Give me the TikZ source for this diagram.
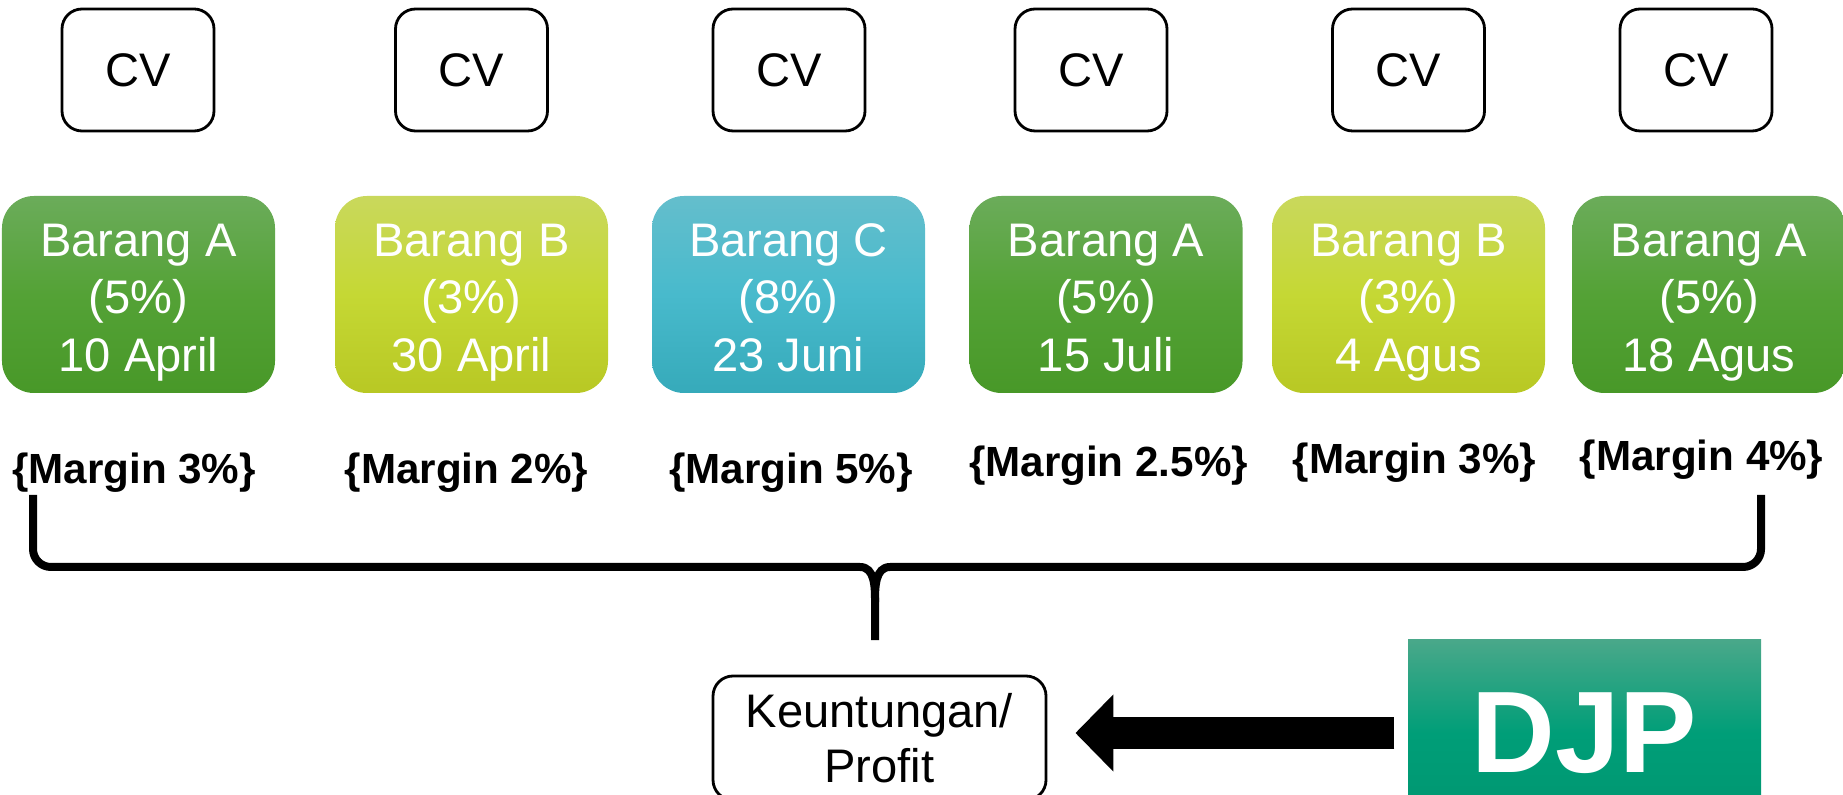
\documentclass[tikz,border=0pt]{standalone}
\usepackage{fontspec}
\setmainfont{Liberation Sans}
\usetikzlibrary{arrows.meta}

\definecolor{grnTop}{RGB}{107,172,90}
\definecolor{grnMid}{RGB}{84,162,54}
\definecolor{grnBot}{RGB}{72,152,40}
\definecolor{ylwTop}{RGB}{201,216,92}
\definecolor{ylwMid}{RGB}{197,216,52}
\definecolor{ylwBot}{RGB}{184,200,36}
\definecolor{tealTop}{RGB}{100,190,204}
\definecolor{tealMid}{RGB}{72,186,204}
\definecolor{tealBot}{RGB}{54,170,186}
\definecolor{djpTop}{RGB}{74,168,138}
\definecolor{djpMid}{RGB}{0,158,120}
\definecolor{djpBot}{RGB}{0,150,112}

\def\brgtext#1#2#3{\rule{0pt}{14pt}#1\\(#2\%)\\#3\rule[-3pt]{0pt}{0pt}}

\tikzset{
	cvbox/.style={draw, line width=0.8pt, rounded corners=0.2cm, minimum width=1.52cm, minimum height=1.22cm, inner sep=0pt, font=\fontsize{13.4}{16}\selectfont},
	itembox/.style={rounded corners=0.32cm, minimum width=2.73cm, minimum height=1.97cm, inner sep=0pt, text=white, align=center, font=\fontsize{13.4}{16.4}\selectfont},
	grnbox/.style={itembox, top color=grnTop, bottom color=grnBot, middle color=grnMid},
	ylwbox/.style={itembox, top color=ylwTop, bottom color=ylwBot, middle color=ylwMid},
	tealbox/.style={itembox, top color=tealTop, bottom color=tealBot, middle color=tealMid},
	mrg/.style={anchor=base, inner sep=0pt, font=\fontsize{12}{14}\selectfont\bfseries},
	brace line/.style={line width=0.08cm, line join=round},
	profitbox/.style={draw, line width=0.8pt, rounded corners=0.2cm, minimum width=3.33cm, minimum height=1.24cm, inner sep=0pt, align=center, font=\fontsize{13.4}{15.6}\selectfont},
	djpbox/.style={minimum width=3.53cm, minimum height=1.88cm, inner sep=0pt, text=white, top color=djpTop, bottom color=djpBot, middle color=djpMid, font=\fontsize{33}{36}\selectfont\bfseries},
	bigarrow/.style={line width=0.32cm, -{Triangle[length=0.38cm, width=0.75cm]}, shorten <=0.13cm, shorten >=0.28cm}
}

\begin{document}
\begin{tikzpicture}
			%%%%% START %%%%%
			\useasboundingbox (0, 0) rectangle (18.43, 7.94);
			
			\node[cvbox] (cv1) at (1.38, 7.24) {CV};
			\node[cvbox] (cv2) at (4.715, 7.24) {CV};
			\node[cvbox] (cv3) at (7.89, 7.24) {CV};
			\node[cvbox] (cv4) at (10.91, 7.24) {CV};
			\node[cvbox] (cv5) at (14.085, 7.24) {CV};
			\node[cvbox] (cv6) at (16.96, 7.24) {CV};
			
			\node[grnbox] (brg1) at (1.385, 4.995) {\brgtext{Barang A}{5}{10 April}};
			\node[ylwbox] (brg2) at (4.715, 4.995) {\brgtext{Barang B}{3}{30 April}};
			\node[tealbox] (brg3) at (7.885, 4.995) {\brgtext{Barang C}{8}{23 Juni}};
			\node[grnbox] (brg4) at (11.06, 4.995) {\brgtext{Barang A}{5}{15 Juli}};
			\node[ylwbox] (brg5) at (14.085, 4.995) {\brgtext{Barang B}{3}{4 Agus}};
			\node[grnbox] (brg6) at (17.09, 4.995) {\brgtext{Barang A}{5}{18 Agus}};
			
			\node[mrg] (mrg1) at (1.34, 3.10) {\{Margin 3\%\}};
			\node[mrg] (mrg2) at (4.665, 3.10) {\{Margin 2\%\}};
			\node[mrg] (mrg3) at (7.91, 3.10) {\{Margin 5\%\}};
			\node[mrg] (mrg4) at (11.085, 3.17) {\{Margin 2.5\%\}};
			\node[mrg] (mrg5) at (14.145, 3.20) {\{Margin 3\%\}};
			\node[mrg] (mrg6) at (17.015, 3.23) {\{Margin 4\%\}};
			
			% brace under the margins
			\coordinate (bl) at (0.33, 2.99);
			\coordinate (br) at (17.61, 2.99);
			\coordinate (tip) at (8.75, 1.54);
			\draw[brace line] (bl) -- (0.33, 2.45) to[out=-90, in=180] (0.51, 2.27) -- (8.6, 2.27) to[out=0, in=90] (8.75, 1.92) -- (tip);
			\draw[brace line] (8.75, 1.92) to[out=90, in=180] (8.9, 2.27) -- (17.43, 2.27) to[out=0, in=-90] (17.61, 2.45) -- (br);
			
			\node[profitbox] (profit) at (8.795, 0.56) {Keuntungan/\\Profit};
			\node[djpbox] (djp) at (15.845, 0.61) {DJP};
			\draw[bigarrow] (djp.west) -- (djp.west -| profit.east);
			
			%%%%% END %%%%%
\end{tikzpicture}
\end{document}
